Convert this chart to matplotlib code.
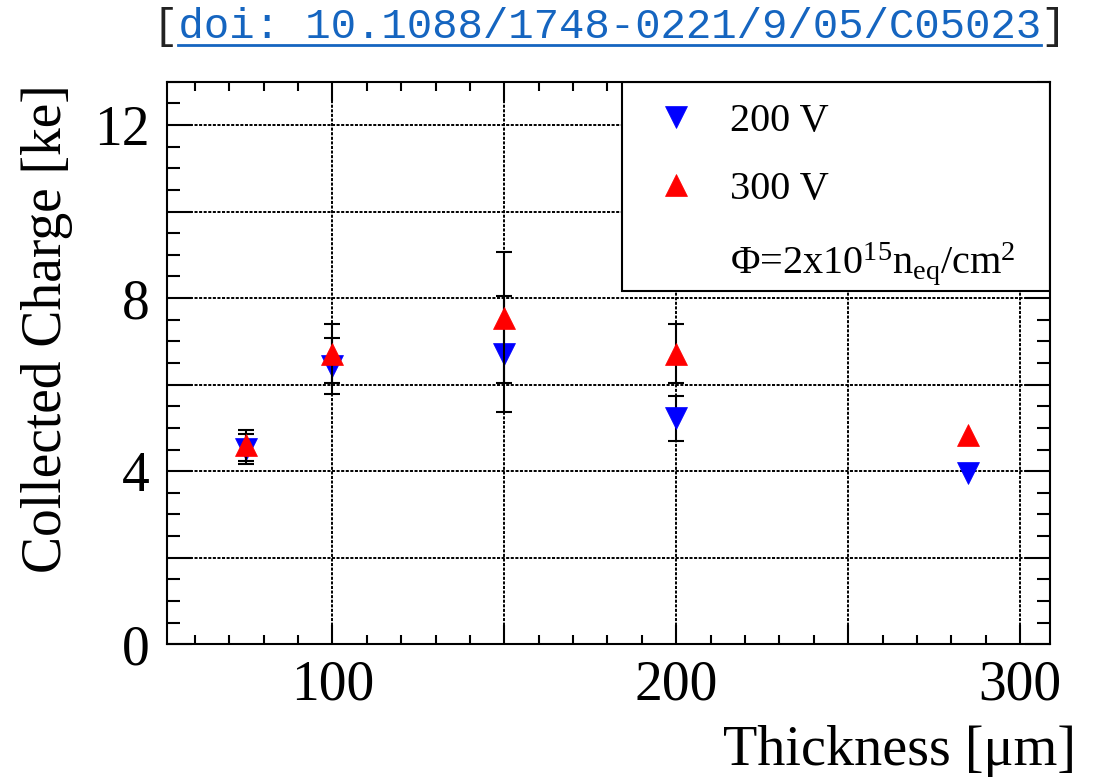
import matplotlib
matplotlib.use("Agg")
import matplotlib.pyplot as plt
from matplotlib.lines import Line2D
from matplotlib.patches import Rectangle
from matplotlib.ticker import FixedLocator, MultipleLocator, FuncFormatter

# sensor thickness [um] and collected charge [ke]
thickness = [75, 100, 150, 200, 285]
charge_200 = [4.51, 6.43, 6.70, 5.22, 3.95]
err_200 = [0.34, 0.64, 1.34, 0.52, 0.0]
charge_300 = [4.60, 6.71, 7.55, 6.71, 4.83]
err_300 = [0.36, 0.68, 1.51, 0.68, 0.0]

labels = ['200 V', '300 V']
fluence_label = r'$\Phi$=2x10$^{15}$n$_{\rm eq}$/cm$^{2}$'
doi_text = 'doi: 10.1088/1748-0221/9/05/C05023'

plt.rcParams['font.family'] = 'Liberation Serif'
plt.rcParams['mathtext.fontset'] = 'custom'
plt.rcParams['mathtext.rm'] = 'Liberation Serif'
plt.rcParams['mathtext.it'] = 'Liberation Serif:italic'
plt.rcParams['lines.scale_dashes'] = False

fig = plt.figure(figsize=(10.99, 7.78), dpi=100)
ax = fig.add_axes([0.1517, 0.1719, 0.8037, 0.7231])


def with_err(xs, ys, es):
    # only points that carry a visible error
    keep = [i for i, e in enumerate(es) if e > 0]
    return [xs[i] for i in keep], [ys[i] for i in keep], [es[i] for i in keep]


# errors first, then markers (ROOT style draw order)
x, y, e = with_err(thickness, charge_200, err_200)
ax.errorbar(x, y, yerr=e, fmt='none', ecolor='black',
            elinewidth=1.5, capsize=5.5, capthick=1.5, zorder=3)
ax.plot(thickness, charge_200, 'v', color='blue', ms=16.5, mew=0.5,
        label=labels[0], zorder=4)
x, y, e = with_err(thickness, charge_300, err_300)
ax.errorbar(x, y, yerr=e, fmt='none', ecolor='black',
            elinewidth=1.5, capsize=5.5, capthick=1.5, zorder=5)
ax.plot(thickness, charge_300, '^', color='red', ms=16.5, mew=0.5,
        label=labels[1], zorder=6)

ax.set_xlim(51.8, 308.7)
ax.set_ylim(0, 13)

ax.xaxis.set_major_locator(FixedLocator([100, 150, 200, 250, 300]))
ax.xaxis.set_minor_locator(MultipleLocator(10))
ax.xaxis.set_major_formatter(FuncFormatter(lambda v, p: '%d' % v if v % 100 == 0 else ''))
ax.yaxis.set_major_locator(MultipleLocator(2))
ax.yaxis.set_minor_locator(MultipleLocator(0.5))
ax.yaxis.set_major_formatter(FuncFormatter(lambda v, p: '%d' % v if v % 4 == 0 else ''))

ax.tick_params(axis='both', which='both', direction='in', width=1.5, colors='black',
               top=True, right=True)
ax.tick_params(axis='x', which='major', length=13.7, labelsize=40, pad=11)
ax.tick_params(axis='x', which='minor', length=6.3)
ax.tick_params(axis='y', which='major', length=18, labelsize=40, pad=12)
ax.tick_params(axis='y', which='minor', length=9.4)

for sp in ax.spines.values():
    sp.set_linewidth(1.5)
    sp.set_zorder(12)

ax.grid(True, which='major', color='black', lw=1.4, linestyle=(0, (2.2, 1.1)), zorder=1)
ax.set_axisbelow(True)

# legend box (white, covers the grid), legend entries on top
ax.add_patch(Rectangle((0.516, 0.6285), 0.484, 0.3715, transform=ax.transAxes,
                       facecolor='white', edgecolor='black', lw=1.5, zorder=9))
handles, _ = ax.get_legend_handles_labels()
handles.append(Line2D([], [], linestyle='none', marker='none'))
leg = ax.legend(handles, labels + [fluence_label], loc='upper left',
                bbox_to_anchor=(0.516, 0.6285, 0.484, 0.3715), mode='expand',
                borderaxespad=0, borderpad=0.52, labelspacing=0.78,
                handlelength=1.64, handletextpad=0.5, numpoints=1,
                fontsize=29, frameon=False)
leg.set_zorder(10)

fig.text(47 / 1099, 1 - 84 / 778, 'Collected Charge [ke]', rotation=90,
         ha='center', va='top', fontsize=40)
fig.text(1076 / 1099, 1 - 765 / 778, 'Thickness [\u03bcm]', ha='right',
         va='baseline', fontsize=40.5)

# doi reference line on top
n = len(doi_text) + 2
fig.text(153 / 1099, 1 - 38 / 778, '[' + ' ' * (n - 2) + ']', family='Liberation Mono',
         fontsize=30.5, color='#222222', va='baseline')
t = fig.text(153 / 1099, 1 - 38 / 778, ' ' + doi_text + ' ', family='Liberation Mono',
             fontsize=30.5, color='#1565c0', va='baseline')
r = fig.canvas.get_renderer()
bb = t.get_window_extent(r)
cw = bb.width / n
fy = (bb.y0 + 2) / fig.bbox.height
fig.add_artist(Line2D([(bb.x0 + cw) / fig.bbox.width, (bb.x1 - cw) / fig.bbox.width],
                      [fy, fy], color='#1565c0', lw=2))

fig.savefig('out.png', dpi=100)
